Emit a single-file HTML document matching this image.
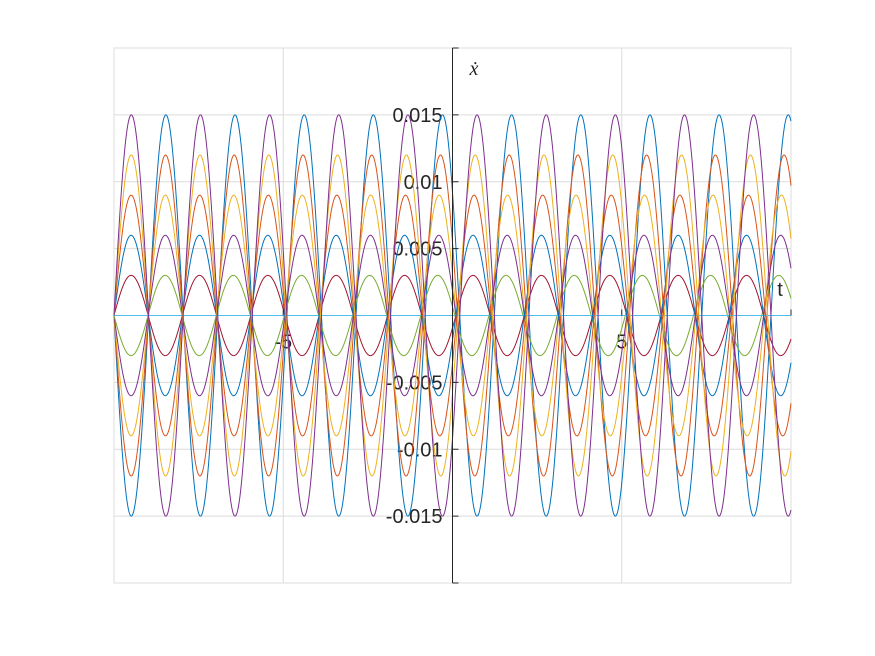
<!DOCTYPE html>
<html><head><meta charset="utf-8"><style>
html,body{margin:0;padding:0;background:#fff;}
svg{display:block;}
</style></head><body>
<svg id="chart" width="875" height="656" viewBox="0 0 875 656" xmlns="http://www.w3.org/2000/svg">
<rect x="0" y="0" width="875" height="656" fill="#fff"/>
<g id="grid"></g>
<g id="labels"></g>
<g id="series"></g>
<g id="axes"></g>
</svg>
<script>
const xTicks = [-5, 0, 5];
const xTickLabels = ["-5", "", "5"];
const yTicks = [-0.015, -0.01, -0.005, 0.005, 0.01, 0.015];
const yTickLabels = ["-0.015", "-0.01", "-0.005", "0.005", "0.01", "0.015"];
const seriesAmp = [-0.015, -0.012, -0.009, -0.006, -0.003, 0, 0.003, 0.006, 0.009, 0.012, 0.015];
const seriesOmega = [0.979, 0.985, 0.989, 0.99, 0.993, 1, 0.99, 0.99, 0.987, 0.984, 0.979];
const seriesColor = ["#0072BD", "#D95319", "#EDB120", "#7E2F8E", "#77AC30", "#4DBEEE", "#A2142F", "#0072BD", "#D95319", "#EDB120", "#7E2F8E"];
const seriesNames = ["blue-neg-015","orange-neg-012","yellow-neg-009","purple-neg-006","green-neg-003","cyan-zero","red-pos-003","blue-pos-006","orange-pos-009","yellow-pos-012","purple-pos-015"];
const xMin = -10, xMax = 10, yMin = -0.02, yMax = 0.02;
const L = 114, R = 791, T = 48, B = 583;
const NS = "http://www.w3.org/2000/svg";
function sx(v){ return L + (v - xMin) / (xMax - xMin) * (R - L); }
function sy(v){ return B - (v - yMin) / (yMax - yMin) * (B - T); }
function mk(tag, attrs, parent){ const e = document.createElementNS(NS, tag); for (const k in attrs) e.setAttribute(k, attrs[k]); parent.appendChild(e); return e; }
const grid = document.getElementById('grid');
const labels = document.getElementById('labels');
const series = document.getElementById('series');
const axes = document.getElementById('axes');
const box = mk('rect', {x:L, y:T, width:R-L, height:B-T, fill:'none', stroke:'#dcdcdc', 'stroke-width':1}, grid);


xTicks.forEach((v,i)=>{
  const g = mk('line', {x1:sx(v), x2:sx(v), y1:T, y2:B, stroke:'#dcdcdc', 'stroke-width':1}, grid);
  
  
  if (xTickLabels[i]) {
    const t = mk('text', {x:sx(v), y:sy(0)+33, 'text-anchor':'middle', 'font-family':'Liberation Sans, sans-serif', 'font-size':20, fill:'#262626'}, labels);
    t.textContent = xTickLabels[i];
    
    
    const tk = mk('line', {x1:sx(v), x2:sx(v), y1:sy(0), y2:sy(0)-6, stroke:'#262626', 'stroke-width':1}, axes);
    
    
  }
});
yTicks.forEach((v,i)=>{
  const g = mk('line', {x1:L, x2:R, y1:sy(v), y2:sy(v), stroke:'#dcdcdc', 'stroke-width':1}, grid);
  
  
  const t = mk('text', {x:sx(0)-10, y:sy(v)+7, 'text-anchor':'end', 'font-family':'Liberation Sans, sans-serif', 'font-size':20, fill:'#262626'}, labels);
  t.textContent = yTickLabels[i];
  
  
  const tk = mk('line', {x1:sx(0), x2:sx(0)+6, y1:sy(v), y2:sy(v), stroke:'#262626', 'stroke-width':1}, axes);
  
  
});
const N = 1200;
seriesAmp.forEach((A,k)=>{
  let d = '';
  for (let i=0;i<=N;i++){
    const t = xMin + (xMax-xMin)*i/N;
    const y = A*Math.sin(Math.PI*seriesOmega[k]*(t - xMin));
    d += (i?'L':'M') + sx(t).toFixed(2) + ' ' + sy(y).toFixed(2);
  }
  const p = mk('path', {d:d, fill:'none', stroke:seriesColor[k], 'stroke-width':1}, series);
  
  
});
const ya = mk('line', {x1:sx(0), x2:sx(0), y1:T, y2:B, stroke:'#262626', 'stroke-width':1}, axes);


[T, B].forEach(yy=>{
  const e = mk('line', {x1:sx(0), x2:sx(0)+6, y1:yy, y2:yy, stroke:'#262626', 'stroke-width':1}, axes);
  
  
});
const xe = mk('line', {x1:R, x2:R, y1:sy(0), y2:sy(0)-6, stroke:'#262626', 'stroke-width':1}, axes);


const xt = mk('text', {x:780, y:296, 'text-anchor':'middle', 'font-family':'Liberation Sans, sans-serif', 'font-size':20, fill:'#262626'}, axes);
xt.textContent = 't';


const ytl = mk('text', {x:474, y:75, 'text-anchor':'middle', 'font-family':'Liberation Serif, serif', 'font-style':'italic', 'font-size':20, fill:'#262626'}, axes);
ytl.textContent = 'ẋ';


</script>
</body></html>
